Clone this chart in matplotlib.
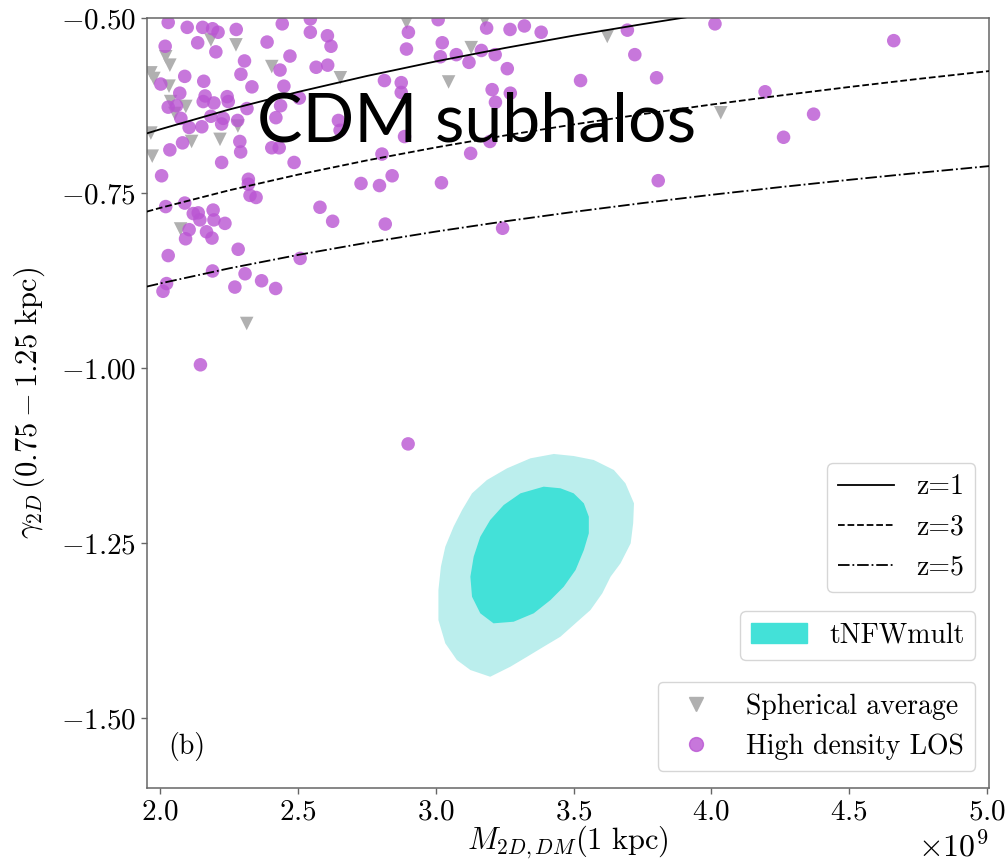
import numpy as np
import matplotlib
matplotlib.use("Agg")
import matplotlib.pyplot as plt
from matplotlib.lines import Line2D
from matplotlib.patches import Patch
from matplotlib.ticker import FuncFormatter, MultipleLocator

plt.rcParams["font.family"] = "serif"
plt.rcParams["font.serif"] = ["cmr10"]
plt.rcParams["mathtext.fontset"] = "cm"
plt.rcParams["axes.formatter.use_mathtext"] = True

# ---- data (masses in units of 1e9 Msun) ----
los_mass = [2.028, 2.097, 2.153, 2.189, 2.209, 2.275, 2.442, 2.544, 2.544, 2.606,
            2.619, 2.135, 2.017, 2.201, 2.387, 2.305, 2.470, 2.565, 2.607, 2.434,
            2.292, 2.088, 2.001, 2.157, 2.332, 2.448, 2.070, 2.162, 2.155, 2.242,
            2.246, 2.194, 2.028, 2.058, 2.314, 2.436, 2.504, 2.074, 2.183, 2.228,
            2.222, 2.280, 2.104, 2.150, 2.419, 2.080, 2.034, 2.288, 2.291, 2.404,
            2.431, 2.222, 2.485, 2.004, 2.319, 2.319, 2.325, 2.347, 2.019, 2.088,
            2.119, 2.137, 2.143, 2.191, 2.194, 2.234, 2.104, 2.091, 2.167, 2.187,
            2.579, 2.625, 2.028, 2.282, 2.507, 2.189, 2.307, 2.367, 2.270, 2.418,
            2.022, 2.009, 2.145, 2.900, 3.008, 2.893, 3.023, 3.016, 3.074, 3.120,
            3.184, 3.269, 3.321, 3.382, 3.165, 3.215, 3.259, 2.813, 2.874, 2.874,
            3.204, 3.216, 3.270, 3.525, 2.646, 2.652, 2.886, 3.196, 3.126, 2.804,
            2.728, 2.795, 2.841, 3.020, 2.816, 3.242, 3.695, 4.013, 4.662, 3.722,
            3.801, 4.195, 4.371, 4.262, 3.807, 2.899]
los_gamma = [-0.506, -0.513, -0.513, -0.515, -0.520, -0.516, -0.508, -0.501, -0.520, -0.525,
             -0.540, -0.535, -0.540, -0.548, -0.534, -0.561, -0.554, -0.570, -0.567, -0.574,
             -0.580, -0.583, -0.594, -0.590, -0.598, -0.597, -0.607, -0.611, -0.619, -0.612,
             -0.619, -0.621, -0.627, -0.625, -0.629, -0.625, -0.614, -0.643, -0.640, -0.643,
             -0.651, -0.646, -0.656, -0.655, -0.642, -0.678, -0.688, -0.676, -0.691, -0.685,
             -0.685, -0.706, -0.706, -0.725, -0.730, -0.737, -0.753, -0.756, -0.769, -0.764,
             -0.779, -0.778, -0.788, -0.774, -0.788, -0.793, -0.802, -0.815, -0.805, -0.814,
             -0.770, -0.790, -0.839, -0.830, -0.843, -0.861, -0.865, -0.875, -0.884, -0.886,
             -0.879, -0.890, -0.995, -0.520, -0.502, -0.544, -0.535, -0.555, -0.552, -0.563,
             -0.514, -0.516, -0.511, -0.520, -0.546, -0.552, -0.572, -0.589, -0.592, -0.606,
             -0.602, -0.620, -0.607, -0.589, -0.646, -0.660, -0.669, -0.676, -0.693, -0.694,
             -0.736, -0.739, -0.725, -0.735, -0.794, -0.800, -0.517, -0.508, -0.532, -0.552,
             -0.585, -0.605, -0.637, -0.670, -0.732, -1.108]

sph_mass = [2.183, 2.274, 2.019, 2.034, 2.404, 1.965, 1.976, 2.031, 2.037, 2.092,
            2.052, 1.965, 2.113, 2.216, 2.281, 1.970, 2.653, 2.073, 2.893, 3.177,
            3.128, 3.046, 3.622, 4.034, 2.313]
sph_gamma = [-0.531, -0.538, -0.555, -0.567, -0.569, -0.578, -0.586, -0.597, -0.619, -0.626,
             -0.636, -0.664, -0.676, -0.673, -0.654, -0.697, -0.585, -0.801, -0.506, -0.503,
             -0.542, -0.591, -0.526, -0.635, -0.936]

# redshift relations
rel_mass = [1.95, 2.0, 2.25, 2.5, 2.75, 3.0, 3.25, 3.5, 3.75, 4.0, 4.25, 4.5, 4.75, 5.0, 5.01]
rel_z1 = [-0.6645, -0.6585, -0.6303, -0.6052, -0.5824, -0.5616, -0.5425, -0.5248, -0.5084,
          -0.4929, -0.4790, -0.4660, -0.4540, -0.4425, -0.4420]
rel_z3 = [-0.7762, -0.7708, -0.7457, -0.7233, -0.7030, -0.6845, -0.6675, -0.6517, -0.6370,
          -0.6233, -0.6104, -0.5982, -0.5867, -0.5758, -0.5754]
rel_z5 = [-0.8833, -0.8787, -0.8572, -0.8380, -0.8206, -0.8047, -0.7901, -0.7766, -0.7640,
          -0.7522, -0.7412, -0.7308, -0.7209, -0.7115, -0.7111]

# tNFWmult posterior credible regions (95% outer, 68% inner)
outer_mass = [3.343, 3.428, 3.500, 3.573, 3.646, 3.688, 3.719, 3.716, 3.707, 3.670, 3.634,
              3.604, 3.561, 3.513, 3.452, 3.391, 3.331, 3.270, 3.197, 3.125, 3.076, 3.034,
              3.009, 3.009, 3.018, 3.034, 3.064, 3.095, 3.131, 3.185, 3.258]
outer_gamma = [-1.1286, -1.1224, -1.1253, -1.1310, -1.1453, -1.1643, -1.1929, -1.2214,
               -1.2500, -1.2786, -1.2977, -1.3214, -1.3453, -1.3620, -1.3834, -1.3977,
               -1.4120, -1.4263, -1.4406, -1.4310, -1.4167, -1.3929, -1.3596, -1.3167,
               -1.2834, -1.2549, -1.2263, -1.2024, -1.1786, -1.1596, -1.1429]
inner_mass = [3.391, 3.452, 3.500, 3.537, 3.555, 3.555, 3.537, 3.507, 3.464, 3.416, 3.355,
              3.282, 3.209, 3.161, 3.131, 3.125, 3.137, 3.161, 3.197, 3.246, 3.307]
inner_gamma = [-1.1691, -1.1714, -1.1786, -1.1929, -1.2120, -1.2357, -1.2596, -1.2881,
               -1.3120, -1.3310, -1.3500, -1.3620, -1.3643, -1.3500, -1.3263, -1.2977,
               -1.2691, -1.2406, -1.2167, -1.1953, -1.1786]

SCALE = 1e9
PURPLE = "mediumorchid"
GREY = "#b0b0b0"
TURQ = "#43e1d8"
TURQ_LIGHT = "#bbeeed"

fig = plt.figure(figsize=(10.07, 8.61), dpi=100)
ax = fig.add_axes([0.1457, 0.0844, 0.8362, 0.8944])

ax.fill(np.array(outer_mass) * SCALE, outer_gamma, color=TURQ_LIGHT, lw=0, zorder=1)
ax.fill(np.array(inner_mass) * SCALE, inner_gamma, color=TURQ, lw=0, zorder=1.1)

ax.scatter(np.array(sph_mass) * SCALE, sph_gamma, marker="v", s=95, color=GREY,
           edgecolors="none", zorder=2)
ax.scatter(np.array(los_mass) * SCALE, los_gamma, marker="o", s=95, color=PURPLE,
           alpha=0.8, edgecolors="none", zorder=2)

rm = np.array(rel_mass) * SCALE
ax.plot(rm, rel_z1, color="black", lw=1.3, ls="-", zorder=3)
ax.plot(rm, rel_z3, color="black", lw=1.3, ls="--", zorder=3)
ax.plot(rm, rel_z5, color="black", lw=1.3, ls="-.", zorder=3)

ax.set_xlim(1.95e9, 5.007e9)
ax.set_ylim(-1.6, -0.5)
ax.xaxis.set_major_locator(MultipleLocator(0.5e9))
ax.yaxis.set_major_locator(MultipleLocator(0.25))
ax.yaxis.set_major_formatter(FuncFormatter(lambda v, p: f"${v:.2f}$"))

for sp in ax.spines.values():
    sp.set_color("0.4")
    sp.set_linewidth(1.1)
ax.tick_params(axis="both", labelsize=21, length=4, color="0.4", width=1)
ax.xaxis.get_offset_text().set_fontsize(23)
ax.xaxis.OFFSETTEXTPAD = 4

ax.set_xlabel(r"$M_{2D,DM}(1\ \mathrm{kpc})$", fontsize=22, labelpad=-1)
ax.set_ylabel(r"$\gamma_{2D}\,(0.75-1.25\ \mathrm{kpc})$", fontsize=22, labelpad=10)

ax.text(0.392, 0.8406, "CDM subhalos", transform=ax.transAxes, ha="center",
        va="baseline", fontsize=49, family="Lato", color="black", zorder=5)
ax.text(0.026, 0.045, "(b)", transform=ax.transAxes, fontsize=20, ha="left", va="baseline")

leg_kw = dict(fontsize=20, borderaxespad=0, frameon=True)
h1 = [Line2D([], [], color="black", lw=1.3, ls=s) for s in ["-", "--", "-."]]
leg1 = ax.legend(h1, ["z=1", "z=3", "z=5"], loc="lower right",
                 bbox_to_anchor=(0.984, 0.255), **leg_kw)
ax.add_artist(leg1)
leg2 = ax.legend([Patch(color=TURQ)], ["tNFWmult"], loc="lower right",
                 bbox_to_anchor=(0.984, 0.1666), **leg_kw)
ax.add_artist(leg2)
h3 = [Line2D([], [], ls="none", marker="v", ms=10, color=GREY),
      Line2D([], [], ls="none", marker="o", ms=10, color=PURPLE, alpha=0.8)]
ax.legend(h3, ["Spherical average", "High density LOS"], loc="lower right",
          bbox_to_anchor=(0.984, 0.0225), **leg_kw)

fig.savefig("out.png", dpi=100)
